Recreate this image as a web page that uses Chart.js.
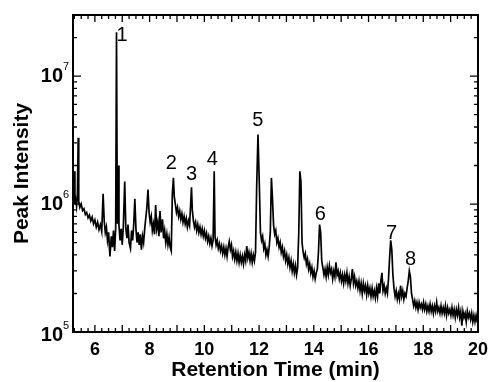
<!DOCTYPE html>
<html>
<head>
<meta charset="utf-8">
<script src="https://cdn.jsdelivr.net/npm/chart.js@4/dist/chart.umd.min.js"></script>
<style>
  html, body { margin: 0; padding: 0; background: #fff; }
  #wrap { width: 495px; height: 382px; position: relative; }
</style>
</head>
<body>
<div id="wrap"><canvas id="chart"></canvas></div>
<script>
// chromatogram trace (min, counts)
const retentionTime = [
  5.20, 5.23, 5.25, 5.27, 5.30, 5.33, 5.36, 5.39, 5.41, 5.45, 5.50, 5.55, 5.60, 5.65, 5.70, 5.75, 5.80, 5.85, 5.90, 5.95,
  6.00, 6.05, 6.10, 6.15, 6.20, 6.25, 6.30, 6.34, 6.38, 6.42, 6.46, 6.50, 6.55, 6.60, 6.64, 6.68, 6.72, 6.76, 6.79, 6.82,
  6.85, 6.88, 6.92, 6.96, 7.00, 7.04, 7.09, 7.13, 7.17, 7.21, 7.25, 7.30, 7.34, 7.38, 7.42, 7.46, 7.50, 7.54, 7.58, 7.62,
  7.66, 7.70, 7.74, 7.78, 7.82, 7.86, 7.90, 7.94, 7.98, 8.02, 8.06, 8.10, 8.14, 8.18, 8.22, 8.26, 8.30, 8.34, 8.38, 8.42,
  8.47, 8.51, 8.55, 8.59, 8.63, 8.67, 8.71, 8.75, 8.79, 8.83, 8.87, 8.90, 8.94, 8.98, 9.02, 9.06, 9.10, 9.14, 9.18, 9.22,
  9.26, 9.30, 9.34, 9.38, 9.42, 9.46, 9.50, 9.53, 9.56, 9.60, 9.64, 9.68, 9.72, 9.76, 9.80, 9.84, 9.88, 9.92, 9.96, 10.00,
  10.04, 10.08, 10.12, 10.16, 10.20, 10.24, 10.28, 10.32, 10.36, 10.39, 10.43, 10.47, 10.51, 10.55, 10.59, 10.63, 10.67, 10.71, 10.75, 10.79,
  10.83, 10.87, 10.91, 10.95, 10.99, 11.03, 11.07, 11.11, 11.15, 11.19, 11.23, 11.27, 11.31, 11.35, 11.39, 11.43, 11.47, 11.51, 11.55, 11.59,
  11.63, 11.67, 11.71, 11.75, 11.79, 11.83, 11.87, 11.91, 11.96, 12.01, 12.05, 12.09, 12.13, 12.17, 12.21, 12.25, 12.29, 12.33, 12.37, 12.41,
  12.45, 12.49, 12.53, 12.57, 12.61, 12.65, 12.69, 12.73, 12.77, 12.81, 12.85, 12.89, 12.93, 12.97, 13.01, 13.05, 13.09, 13.13, 13.17, 13.21,
  13.25, 13.29, 13.33, 13.37, 13.41, 13.45, 13.49, 13.53, 13.57, 13.61, 13.65, 13.69, 13.73, 13.77, 13.81, 13.85, 13.89, 13.93, 13.97, 14.01,
  14.05, 14.09, 14.13, 14.17, 14.21, 14.25, 14.29, 14.33, 14.37, 14.41, 14.45, 14.49, 14.53, 14.57, 14.61, 14.65, 14.69, 14.73, 14.77, 14.81,
  14.85, 14.89, 14.93, 14.97, 15.01, 15.05, 15.09, 15.13, 15.17, 15.21, 15.25, 15.29, 15.33, 15.37, 15.41, 15.45, 15.49, 15.53, 15.57, 15.61,
  15.65, 15.69, 15.73, 15.77, 15.81, 15.85, 15.89, 15.93, 15.97, 16.01, 16.05, 16.09, 16.13, 16.17, 16.21, 16.25, 16.29, 16.33, 16.37, 16.41,
  16.45, 16.49, 16.53, 16.57, 16.61, 16.65, 16.69, 16.73, 16.77, 16.81, 16.85, 16.89, 16.93, 16.97, 17.01, 17.05, 17.09, 17.13, 17.17, 17.21,
  17.25, 17.29, 17.33, 17.37, 17.41, 17.45, 17.49, 17.53, 17.57, 17.61, 17.65, 17.69, 17.73, 17.77, 17.81, 17.85, 17.89, 17.93, 17.97, 18.01,
  18.05, 18.09, 18.13, 18.17, 18.21, 18.25, 18.29, 18.33, 18.37, 18.41, 18.45, 18.49, 18.53, 18.57, 18.61, 18.65, 18.69, 18.73, 18.77, 18.81,
  18.85, 18.89, 18.93, 18.97, 19.01, 19.05, 19.09, 19.13, 19.17, 19.21, 19.25, 19.29, 19.33, 19.37, 19.41, 19.45, 19.49, 19.53, 19.57, 19.61,
  19.65, 19.69, 19.73, 19.77, 19.81, 19.85, 19.89, 19.93, 19.97, 20.00
];
const peakIntensity = [
  1.02e6, 1.10e6, 1.80e6, 1.00e6, 1.08e6, 9.6e5, 1.15e6, 3.30e6, 1.05e6, 9.4e5, 1.00e6, 8.9e5, 9.2e5, 8.3e5, 8.6e5, 7.8e5, 8.2e5, 7.4e5, 7.9e5, 7.0e5,
  7.5e5, 6.6e5, 7.2e5, 6.3e5, 6.9e5, 6.1e5, 1.20e6, 7.4e5, 6.0e5, 6.6e5, 5.2e5, 6.0e5, 3.9e5, 5.6e5, 4.6e5, 6.2e5, 4.3e5, 6.5e5, 2.2e7, 7.0e5,
  2.0e6, 6.8e5, 5.2e5, 6.4e5, 4.8e5, 6.8e5, 1.50e6, 6.5e5, 5.4e5, 6.9e5, 5.0e5, 4.5e5, 6.2e5, 5.2e5, 7.0e5, 1.10e6, 6.4e5, 5.0e5, 6.0e5, 4.8e5,
  5.8e5, 4.4e5, 5.6e5, 5.0e5, 6.4e5, 7.8e5, 9.4e5, 1.30e6, 8.6e5, 7.2e5, 8.0e5, 6.2e5, 7.0e5, 5.8e5, 9.8e5, 6.4e5, 7.2e5, 5.6e5, 8.8e5, 6.0e5,
  7.6e5, 5.4e5, 6.2e5, 5.0e5, 5.8e5, 4.8e5, 5.5e5, 4.6e5, 4.3e5, 1.20e6, 1.60e6, 1.15e6, 1.00e6, 8.6e5, 9.4e5, 8.0e5, 8.8e5, 7.6e5, 8.4e5, 7.2e5,
  8.0e5, 7.0e5, 7.7e5, 6.6e5, 7.4e5, 6.8e5, 1.00e6, 1.35e6, 9.0e5, 7.4e5, 6.6e5, 7.2e5, 6.2e5, 6.9e5, 6.0e5, 6.6e5, 5.8e5, 6.4e5, 5.6e5, 6.2e5,
  5.4e5, 5.9e5, 5.1e5, 5.6e5, 4.9e5, 5.4e5, 4.7e5, 5.2e5, 1.80e6, 5.6e5, 4.8e5, 5.2e5, 4.5e5, 4.9e5, 4.3e5, 4.7e5, 4.1e5, 4.6e5, 4.0e5, 4.5e5,
  3.9e5, 4.6e5, 5.1e5, 4.4e5, 4.8e5, 3.9e5, 4.3e5, 3.7e5, 4.2e5, 3.6e5, 4.1e5, 3.5e5, 4.0e5, 3.5e5, 3.9e5, 3.4e5, 4.0e5, 3.6e5, 4.7e5, 3.8e5,
  4.2e5, 3.6e5, 4.1e5, 3.5e5, 4.0e5, 3.6e5, 4.2e5, 1.30e6, 3.50e6, 1.40e6, 6.0e5, 5.2e5, 5.6e5, 4.5e5, 4.9e5, 4.0e5, 4.4e5, 3.9e5, 4.6e5, 6.0e5,
  1.60e6, 1.10e6, 6.8e5, 5.8e5, 6.2e5, 5.0e5, 5.4e5, 4.6e5, 5.0e5, 4.2e5, 4.6e5, 3.9e5, 4.3e5, 3.6e5, 4.0e5, 3.4e5, 3.8e5, 3.2e5, 3.6e5, 3.0e5,
  3.4e5, 2.9e5, 3.3e5, 2.8e5, 3.2e5, 6.0e5, 1.80e6, 1.50e6, 5.0e5, 4.2e5, 3.8e5, 4.1e5, 3.4e5, 3.7e5, 3.1e5, 3.4e5, 2.9e5, 3.2e5, 2.7e5, 3.0e5,
  2.6e5, 2.9e5, 3.1e5, 4.2e5, 6.9e5, 6.0e5, 3.6e5, 3.2e5, 2.8e5, 3.1e5, 2.7e5, 3.2e5, 2.8e5, 3.3e5, 2.9e5, 3.1e5, 2.6e5, 3.0e5, 2.7e5, 3.5e5,
  2.8e5, 3.0e5, 2.6e5, 2.9e5, 2.5e5, 2.8e5, 2.4e5, 2.8e5, 2.5e5, 2.9e5, 2.4e5, 2.7e5, 2.3e5, 2.6e5, 3.1e5, 2.4e5, 2.7e5, 2.3e5, 2.5e5, 2.2e5,
  2.5e5, 2.1e5, 2.4e5, 2.0e5, 2.4e5, 2.1e5, 2.3e5, 1.95e5, 2.3e5, 2.0e5, 2.2e5, 1.9e5, 2.2e5, 1.9e5, 2.1e5, 1.85e5, 2.2e5, 1.9e5, 2.4e5, 2.0e5,
  2.5e5, 2.9e5, 2.1e5, 2.3e5, 2.0e5, 2.2e5, 2.0e5, 2.6e5, 3.8e5, 5.2e5, 4.4e5, 2.8e5, 2.2e5, 1.9e5, 2.1e5, 1.8e5, 2.0e5, 1.8e5, 2.3e5, 1.9e5,
  2.1e5, 1.8e5, 2.0e5, 1.9e5, 2.2e5, 2.5e5, 3.0e5, 2.7e5, 2.0e5, 1.8e5, 1.6e5, 1.75e5, 1.55e5, 1.7e5, 1.5e5, 1.7e5, 1.55e5, 1.65e5, 1.5e5, 1.7e5,
  1.5e5, 1.65e5, 1.45e5, 1.6e5, 1.45e5, 1.65e5, 1.45e5, 1.6e5, 1.4e5, 1.6e5, 1.45e5, 1.7e5, 1.45e5, 1.55e5, 1.4e5, 1.6e5, 1.4e5, 1.55e5, 1.4e5, 1.6e5,
  1.35e5, 1.55e5, 1.4e5, 1.5e5, 1.35e5, 1.55e5, 1.35e5, 1.5e5, 1.3e5, 1.5e5, 1.35e5, 1.55e5, 1.3e5, 1.45e5, 1.12e5, 1.45e5, 1.3e5, 1.4e5, 1.2e5, 1.45e5,
  1.3e5, 1.4e5, 1.25e5, 1.4e5, 1.2e5, 1.35e5, 1.2e5, 1.35e5, 1.2e5, 1.3e5
];

// numbered peaks: label text and where the label sits (data coords)
const peakLabels = ["1", "2", "3", "4", "5", "6", "7", "8"];
const peakLabelTime = [6.99, 8.79, 9.53, 10.29, 11.95, 14.24, 16.84, 17.54];
const peakLabelIntensity = [2.08e7, 2.06e6, 1.71e6, 2.23e6, 4.51e6, 8.24e5, 5.85e5, 3.66e5];

// axis ticks
const xTickValues = [6, 8, 10, 12, 14, 16, 18, 20];
const yTickExponents = [5, 6, 7];

const FONT = "'Liberation Sans', Arial, sans-serif";

const frame = {
  id: "frame",
  afterDatasetsDraw(chart) {
    const { ctx, chartArea: a, scales: { x, y } } = chart;
    ctx.save();
    ctx.strokeStyle = "#000";
    ctx.fillStyle = "#000";

    // inward tick marks on all four sides
    ctx.lineWidth = 1.3;
    ctx.beginPath();
    for (let q = Math.ceil(x.min * 4); q <= Math.floor(x.max * 4); q++) {
      const px = x.getPixelForValue(q / 4);
      const len = q % 4 === 0 ? 7 : 4;
      ctx.moveTo(px, a.bottom); ctx.lineTo(px, a.bottom - len);
      ctx.moveTo(px, a.top); ctx.lineTo(px, a.top + len);
    }
    for (let e = 5; e <= 7; e++) {
      for (let m = 1; m <= 9; m++) {
        const v = m * Math.pow(10, e);
        if (v > y.max) break;
        const py = y.getPixelForValue(v);
        const len = m === 1 ? 8 : 4;
        ctx.moveTo(a.left, py); ctx.lineTo(a.left + len, py);
        ctx.moveTo(a.right, py); ctx.lineTo(a.right - len, py);
      }
    }
    ctx.stroke();

    ctx.lineWidth = 2;
    ctx.strokeRect(a.left, a.top, a.right - a.left, a.bottom - a.top);

    // y labels as 10^n
    ctx.textBaseline = "middle";
    yTickExponents.forEach((n) => {
      const py = y.getPixelForValue(Math.pow(10, n));
      const ly = n === 5 ? py + 3 : py;
      ctx.font = "bold 20px " + FONT;
      ctx.textAlign = "right";
      ctx.fillText("10", 63, ly);
      ctx.font = "11px " + FONT;
      ctx.textAlign = "left";
      ctx.fillText(String(n), 63, ly - 9);
    });

    // peak numbers
    ctx.font = "20px " + FONT;
    ctx.textAlign = "center";
    peakLabels.forEach((t, i) => {
      ctx.fillText(t, x.getPixelForValue(peakLabelTime[i]), y.getPixelForValue(peakLabelIntensity[i]));
    });
    ctx.restore();
  }
};

const points = retentionTime.map((t, i) => ({ x: t, y: peakIntensity[i] }));

new Chart(document.getElementById("chart"), {
  type: "line",
  data: {
    datasets: [{
      data: points,
      borderColor: "#000",
      borderWidth: 1.7,
      pointRadius: 0,
      tension: 0
    }]
  },
  options: {
    responsive: true,
    maintainAspectRatio: false,
    animation: false,
    layout: { padding: { left: 0, right: 13, top: 15, bottom: 0 } },
    plugins: { legend: { display: false }, tooltip: { enabled: false } },
    scales: {
      x: {
        type: "linear",
        min: 5.2,
        max: 20,
        afterBuildTicks: (s) => { s.ticks = xTickValues.map((v) => ({ value: v })); },
        afterFit: (s) => { s.height = 50; },
        grid: { display: false, drawTicks: false },
        border: { display: false },
        ticks: { color: "#000", font: { family: FONT, size: 18, weight: "bold" }, padding: 7, maxRotation: 0 },
        title: {
          display: true,
          text: "Retention Time (min)",
          color: "#000",
          font: { family: FONT, size: 21, weight: "bold", lineHeight: 1 },
          padding: { top: 0, bottom: 1 }
        }
      },
      y: {
        type: "logarithmic",
        min: 1e5,
        max: 3e7,
        afterFit: (s) => { s.width = 73; },
        grid: { display: false, drawTicks: false },
        border: { display: false },
        ticks: { display: false },
        title: {
          display: true,
          text: "Peak Intensity",
          color: "#000",
          font: { family: FONT, size: 21, weight: "bold", lineHeight: 1 },
          padding: { top: 12, bottom: 0 }
        }
      }
    }
  },
  plugins: [frame]
});
</script>
</body>
</html>
